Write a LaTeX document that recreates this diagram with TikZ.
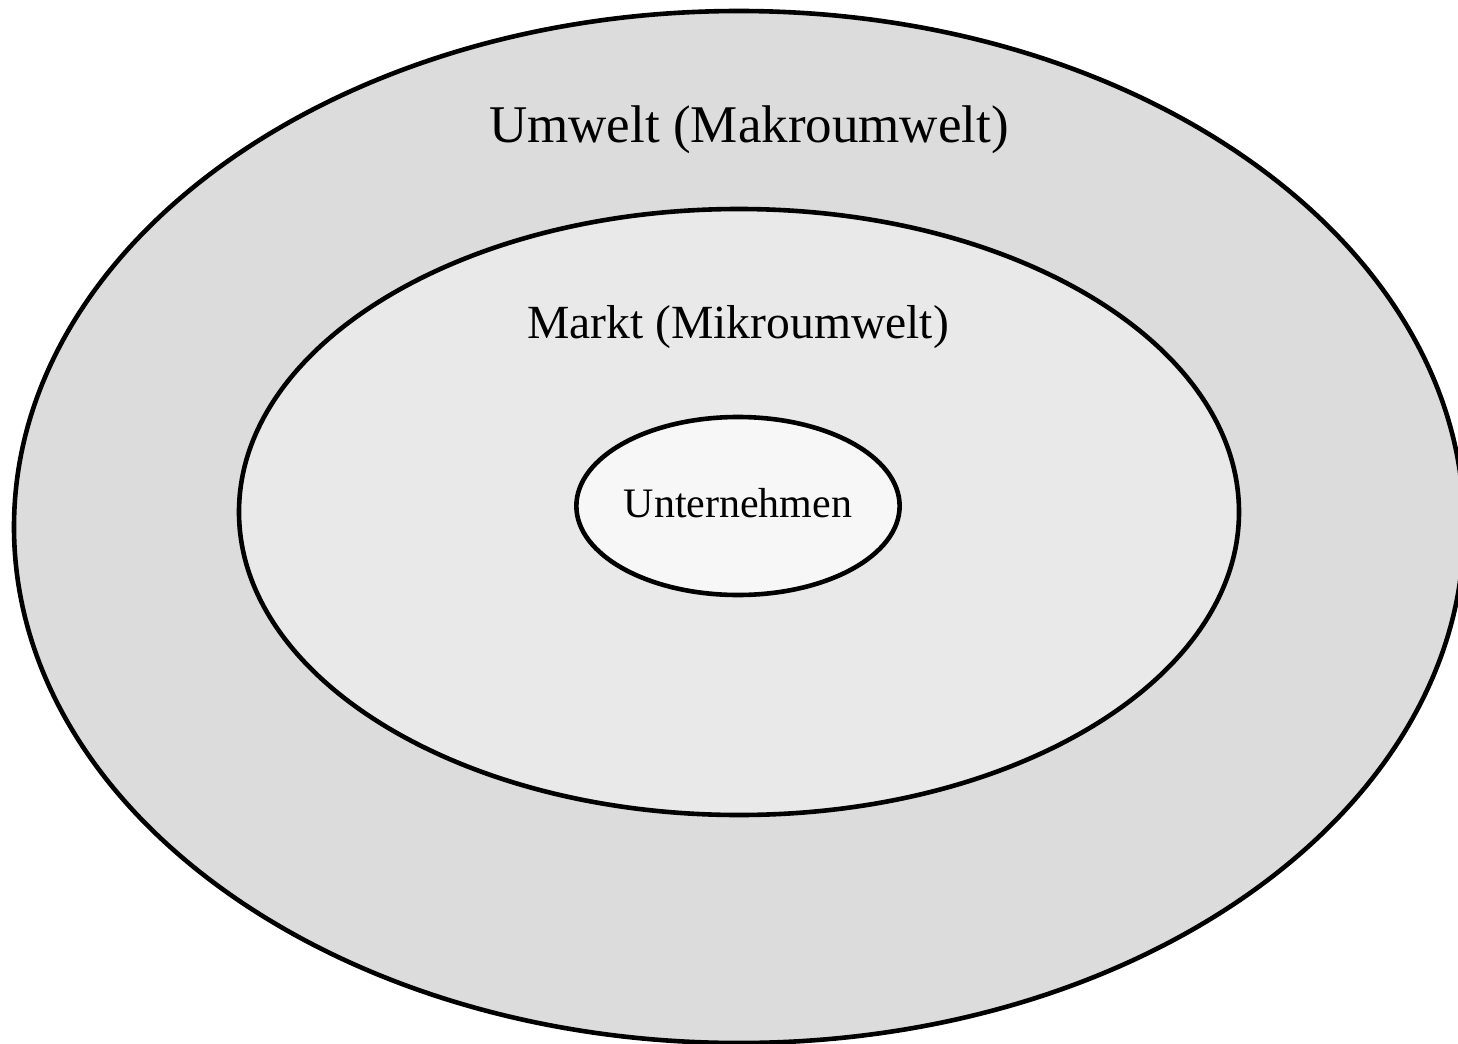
\documentclass[tikz,border=0pt]{standalone}
\usepackage{fontspec}
\setmainfont{Liberation Serif}
\usetikzlibrary{shapes, positioning}

\definecolor{macrogray}{HTML}{DCDCDC}
\definecolor{microgray}{HTML}{E9E9E9}
\definecolor{firmgray}{HTML}{F7F7F7}

\begin{document}
\begin{tikzpicture}[x=0.5pt, y=-0.5pt,
    sphere/.style={shape=ellipse, draw=black, line width=2.3pt, inner sep=0pt},
    bigtext/.style={font=\fontsize{26.5}{30}\selectfont},
    midtext/.style={font=\fontsize{23.8}{27}\selectfont},
    smalltext/.style={font=\fontsize{21}{24}\selectfont}]
    \useasboundingbox (0,0) rectangle (1458,1044);
    \clip (0,0) rectangle (1458,1044);

    \node[sphere, fill=macrogray, minimum width=725pt, minimum height=516pt] at (739, 527) (macro) {};
    \node[sphere, fill=microgray, minimum width=500pt, minimum height=303pt] at (739, 512) (micro) {};
    \node[sphere, fill=firmgray, minimum width=158pt, minimum height=89pt, smalltext] at (738, 506) (firm) {\raisebox{3pt}{Unternehmen}};

    \node[bigtext] at (749, 130) (macro-label) {Umwelt (Makroumwelt)};
    \node[midtext] at (738, 327) (micro-label) {Markt (Mikroumwelt)};
\end{tikzpicture}
\end{document}
